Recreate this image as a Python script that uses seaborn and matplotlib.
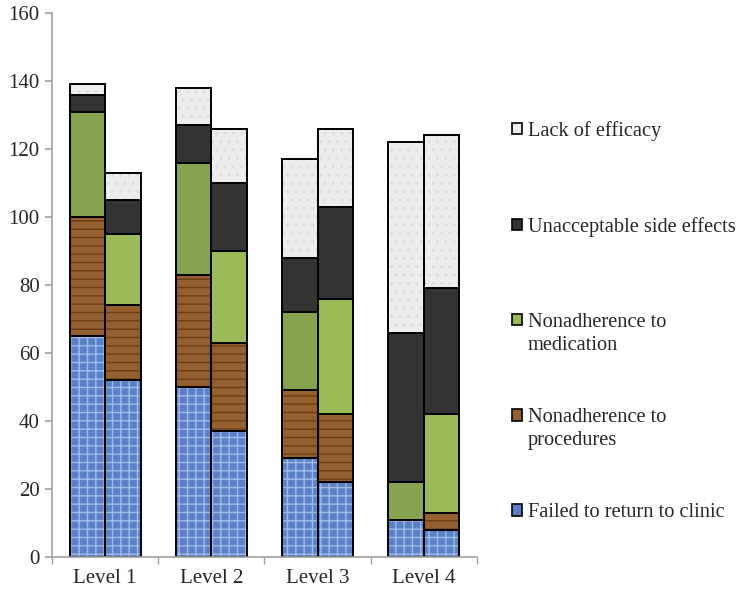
import numpy as np
import seaborn as sns
import matplotlib.pyplot as plt

# data (two bars per level)
levels = ['Level 1', 'Level 2', 'Level 3', 'Level 4']
failed_return = [65, 52, 50, 37, 29, 22, 11, 8]
nonadh_procedures = [35, 22, 33, 26, 20, 20, 0, 5]
nonadh_medication = [31, 21, 33, 27, 23, 34, 11, 29]
side_effects = [5, 10, 11, 20, 16, 27, 44, 37]
lack_efficacy = [3, 8, 11, 16, 29, 23, 56, 45]

sns.set_theme(style='white')
plt.rcParams['font.family'] = ['Liberation Serif', 'DejaVu Serif']
plt.rcParams['hatch.linewidth'] = 1.0

fig = plt.figure(figsize=(7.44, 5.95), dpi=100)
ax = fig.add_axes([0.07, 0.064, 0.571, 0.914])

# bar positions: each level spans one unit, two bars side by side
w = 0.335
xs = []
for i in range(len(levels)):
    xs += [i - w / 2, i + w / 2]
xs = np.array(xs)

series = [
    ('Failed to return to clinic', failed_return, ['#5b80c6'] * 8, '#9fbbe8', '++'),
    ('Nonadherence to\nprocedures', nonadh_procedures, ['#95602f'] * 8, '#6a3c14', '--'),
    ('Nonadherence to\nmedication', nonadh_medication, ['#86a34f', '#9bbb59'] * 4, None, None),
    ('Unacceptable side effects', side_effects, ['#333333'] * 8, None, None),
    ('Lack of efficacy', lack_efficacy, ['#ededed'] * 8, '#dcdcdc', '..'),
]

bottom = np.zeros(len(xs))
handles = []
for name, vals, cols, hcol, hatch in series:
    vals = np.array(vals, dtype=float)
    mask = vals > 0
    if hatch:
        ax.bar(xs[mask], vals[mask], bottom=bottom[mask], width=w, color=np.array(cols)[mask],
               edgecolor=hcol, hatch=hatch, linewidth=0)
    else:
        ax.bar(xs[mask], vals[mask], bottom=bottom[mask], width=w, color=np.array(cols)[mask],
               linewidth=0)
    ax.bar(xs[mask], vals[mask], bottom=bottom[mask], width=w, fill=False,
           edgecolor='black', linewidth=1.4)
    handles.append(plt.Rectangle((0, 0), 1, 1, facecolor=cols[-1], edgecolor='black', linewidth=1.2))
    bottom += vals

ax.set_xlim(-0.5, len(levels) - 0.5)
ax.set_ylim(0, 160)
ax.set_yticks(range(0, 161, 20))
ax.set_xticks(range(len(levels)))
ax.set_xticklabels(levels, fontsize=15)
ax.set_xticks(np.arange(-0.5, len(levels)), minor=True)
ax.tick_params(axis='x', which='major', length=0, pad=9)
ax.tick_params(axis='x', which='minor', length=5, color='#a0a0a0', direction='out', bottom=True)
ax.tick_params(axis='y', length=5, color='#a0a0a0', direction='out', left=True, labelsize=15, pad=4)

for s in ['top', 'right']:
    ax.spines[s].set_visible(False)
for s in ['left', 'bottom']:
    ax.spines[s].set_color('#a0a0a0')
    ax.spines[s].set_linewidth(1.2)

# legend: first lines equally spaced, second lines added underneath (Excel style)
labels = [s[0] for s in series][::-1]
first_lines = [l.split('\n')[0] for l in labels]
leg = fig.legend(handles[::-1], first_lines, loc='upper left', bbox_to_anchor=(0.663, 0.828),
                 frameon=False, fontsize=14.7, handlelength=0.5, handleheight=0.5,
                 handletextpad=0.3, labelspacing=3.73, borderpad=0.4)
fig.canvas.draw()
W, H = fig.get_size_inches() * fig.dpi
for txt, lab in zip(leg.get_texts(), labels):
    if '\n' in lab:
        bb = txt.get_window_extent()
        fig.text(bb.x0 / W, (bb.y0 - 23) / H, lab.split('\n')[1], fontsize=14.7,
                 ha='left', va='bottom')

fig.savefig('out.png', dpi=100)
